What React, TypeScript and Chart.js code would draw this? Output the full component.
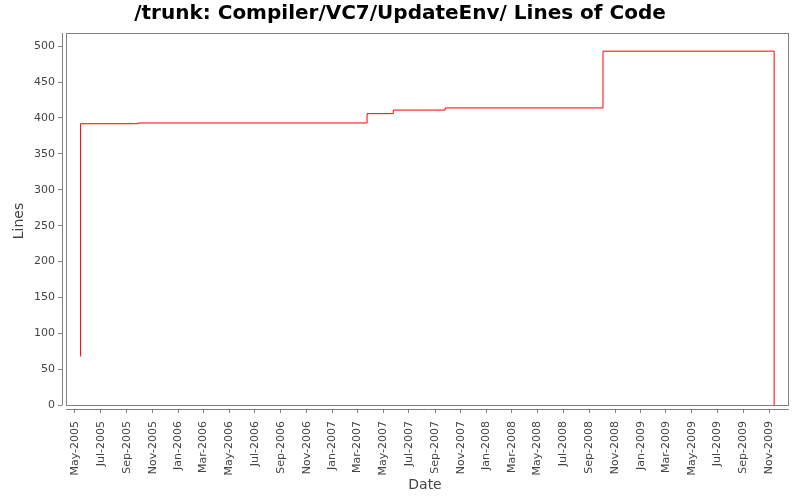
import React, { useEffect, useRef } from "react";
import { Chart, registerables } from "chart.js";

Chart.register(...registerables);

const TITLE = "/trunk: Compiler/VC7/UpdateEnv/ Lines of Code";
const X_TITLE = "Date";
const Y_TITLE = "Lines";

const changeDates = [
  "2005-05-14T00:00:00Z",
  "2005-05-14T06:00:00Z",
  "2005-09-28T00:00:00Z",
  "2007-03-24T00:00:00Z",
  "2007-05-25T00:00:00Z",
  "2007-09-25T00:00:00Z",
  "2008-10-03T00:00:00Z",
  "2009-11-12T12:00:00Z",
];
const lineCounts = [68, 392, 393, 406, 411, 414, 493, 0];

const xTickLabels = [
  "May-2005", "Jul-2005", "Sep-2005", "Nov-2005", "Jan-2006", "Mar-2006",
  "May-2006", "Jul-2006", "Sep-2006", "Nov-2006", "Jan-2007", "Mar-2007",
  "May-2007", "Jul-2007", "Sep-2007", "Nov-2007", "Jan-2008", "Mar-2008",
  "May-2008", "Jul-2008", "Sep-2008", "Nov-2008", "Jan-2009", "Mar-2009",
  "May-2009", "Jul-2009", "Sep-2009", "Nov-2009",
];
const yTickValues = [0, 50, 100, 150, 200, 250, 300, 350, 400, 450, 500];

const xRange = ["2005-03-31T05:00:00Z", "2009-12-15T07:00:00Z"];
const yRange = [-5.2, 518.3];

const MONTHS = ["Jan", "Feb", "Mar", "Apr", "May", "Jun", "Jul", "Aug", "Sep", "Oct", "Nov", "Dec"];
const labelToTime = (s: string) => {
  const [m, y] = s.split("-");
  return Date.UTC(parseInt(y, 10), MONTHS.indexOf(m), 1);
};
const xTickTimes = xTickLabels.map(labelToTime);

const FONT = "'DejaVu Sans', sans-serif";
const AXIS_GRAY = "#808080";
const TEXT_GRAY = "#444444";

const framePlugin = {
  id: "frame",
  beforeDatasetsDraw(chart: any) {
    const { ctx, chartArea } = chart;
    const { left, right, top, bottom } = chartArea;
    ctx.save();
    ctx.strokeStyle = AXIS_GRAY;
    ctx.lineWidth = 1;
    // plot rectangle (inset 4px from the offset axes)
    ctx.strokeRect(left + 4.5, top + 0.5, right - left - 4, bottom - 4 - top);
    // y axis line
    ctx.beginPath();
    ctx.moveTo(left + 0.5, top);
    ctx.lineTo(left + 0.5, bottom - 3.5);
    // x axis line
    ctx.moveTo(left + 4, bottom + 0.5);
    ctx.lineTo(right + 1, bottom + 0.5);
    ctx.stroke();
    ctx.restore();
  },
};

export default function App() {
  const ref = useRef<HTMLCanvasElement | null>(null);

  useEffect(() => {
    if (!ref.current) return;
    const data = changeDates.map((d, i) => ({ x: Date.parse(d), y: lineCounts[i] }));
    const chart = new Chart(ref.current, {
      type: "line",
      data: {
        datasets: [
          {
            label: "Lines",
            data,
            borderColor: "#ff0000",
            borderWidth: 1,
            pointRadius: 0,
            stepped: "before",
            fill: false,
            xAxisID: "x",
            yAxisID: "y",
          },
        ],
      },
      options: {
        animation: false,
        responsive: false,
        maintainAspectRatio: false,
        layout: { padding: 0 },
        plugins: {
          legend: { display: false },
          tooltip: { enabled: false },
          title: {
            display: true,
            text: TITLE,
            color: "#000000",
            font: { family: FONT, size: 20, weight: "bold", lineHeight: 1.2 },
            padding: { top: 2, bottom: 7 },
          },
        },
        scales: {
          x: {
            type: "linear",
            min: Date.parse(xRange[0]),
            max: Date.parse(xRange[1]),
            afterBuildTicks: (scale: any) => {
              scale.ticks = xTickTimes.map((v) => ({ value: v }));
            },
            afterFit: (scale: any) => {
              scale.height = 91;
            },
            ticks: {
              autoSkip: false,
              minRotation: 90,
              maxRotation: 90,
              padding: 8,
              color: TEXT_GRAY,
              font: { family: FONT, size: 11 },
              callback: (v: any) => {
                const i = xTickTimes.indexOf(Number(v));
                return i >= 0 ? xTickLabels[i] : "";
              },
            },
            grid: {
              display: true,
              drawOnChartArea: false,
              drawTicks: true,
              tickLength: 4,
              color: AXIS_GRAY,
            },
            border: { display: false },
            title: {
              display: true,
              text: X_TITLE,
              color: TEXT_GRAY,
              font: { family: FONT, size: 14, lineHeight: 1.2 },
              padding: { top: 0, bottom: 6.6 },
            },
          },
          y: {
            type: "linear",
            position: "left",
            min: yRange[0],
            max: yRange[1],
            afterBuildTicks: (scale: any) => {
              scale.ticks = yTickValues.map((v) => ({ value: v }));
            },
            afterFit: (scale: any) => {
              scale.width = 62;
            },
            ticks: {
              padding: 3,
              color: TEXT_GRAY,
              font: { family: FONT, size: 11 },
              callback: (v: any) => String(v),
            },
            grid: {
              display: true,
              drawOnChartArea: false,
              drawTicks: true,
              tickLength: 4,
              color: AXIS_GRAY,
            },
            border: { display: false },
            title: {
              display: true,
              text: Y_TITLE,
              color: TEXT_GRAY,
              font: { family: FONT, size: 14, lineHeight: 1.2 },
              padding: { top: 10.6, bottom: 0 },
            },
          },
          yRightSpacer: {
            type: "linear",
            position: "right",
            min: yRange[0],
            max: yRange[1],
            afterFit: (scale: any) => {
              scale.width = 12;
            },
            ticks: { display: false },
            grid: { display: false },
            border: { display: false },
          },
        },
      },
      plugins: [framePlugin],
    } as any);
    return () => chart.destroy();
  }, []);

  return (
    <div style={{ position: "absolute", left: 0, top: 0, width: 800, height: 500, background: "#ffffff" }}>
      <canvas ref={ref} width={800} height={500} />
    </div>
  );
}
